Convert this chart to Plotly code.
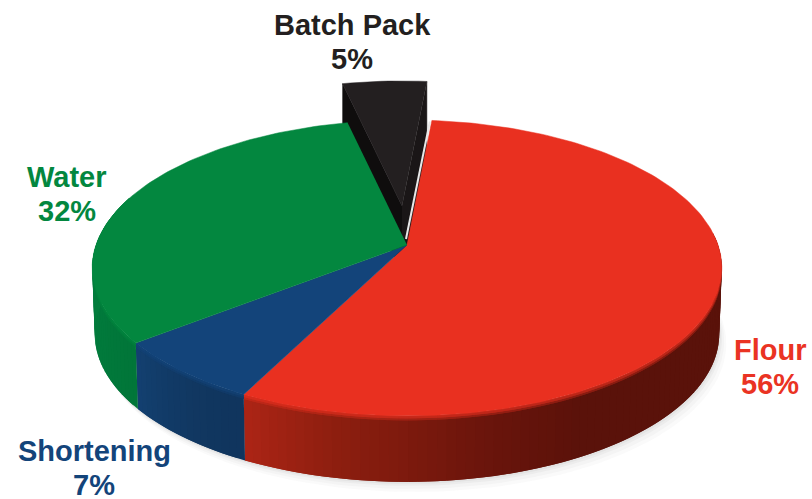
import numpy as np
import plotly.graph_objects as go

categories = ["Flour", "Shortening", "Water", "Batch Pack"]
shares = [56, 7, 32, 5]
face_colors = ["#e93020", "#13447a", "#03873f", "#231f20"]
text_colors = ["#ea3323", "#13447a", "#03873f", "#231f20"]
label_x = [770, 94, 67, 352]
label_y = [350, 451, 177, 25]

W, H = 812, 499
CX, CY, A, B, K = 407.0, 245.0, 311.0, 144.4, 0.155
DEPTH = 66.0
ROT = 5.3


def rim(t):
    r = np.radians(t)
    d = 1 + K * np.cos(r)
    return CX + A * np.sin(r) / d, CY - B * np.cos(r) / d


def low(x, y):
    return CX + (x - CX) * 0.992, y + DEPTH


def side_rgb(i, t):
    if i == 0:
        ts = [90, 150, 167, 192, 207]
        rs = [0x5a, 0x5a, 0x6a, 0x8f, 0xad]
        gs = [0x12, 0x12, 0x15, 0x1f, 0x25]
        bs = [0x0a, 0x0a, 0x0c, 0x10, 0x16]
    elif i == 1:
        ts = [207, 215, 225, 233]
        rs = [0x10, 0x11, 0x12, 0x14]
        gs = [0x35, 0x37, 0x3c, 0x41]
        bs = [0x5e, 0x60, 0x69, 0x72]
    else:
        ts = [232, 250, 280]
        rs = [0x01, 0x02, 0x04]
        gs = [0x76, 0x7a, 0x80]
        bs = [0x39, 0x3c, 0x3f]
    return np.array([np.interp(t, ts, rs), np.interp(t, ts, gs), np.interp(t, ts, bs)])


def hex_rgb(c):
    return np.array([int(c[i:i + 2], 16) for i in (1, 3, 5)], dtype=float)


def css(v):
    return "rgb(%d,%d,%d)" % tuple(v)


def poly(xs, ys, color, lw=0.0):
    return go.Scatter(x=list(xs), y=list(ys), mode="lines", fill="toself", fillcolor=color,
                      line=dict(width=lw, color=color), hoverinfo="skip", showlegend=False)


fig = go.Figure()

edges = ROT + np.cumsum([0] + shares) * 3.6

# soft shadow
ts = np.linspace(0, 360, 181)
px, py = rim(ts)
bx, by = low(px, py)
for off, alpha in ((10, 0.03), (7, 0.04), (4, 0.05), (2, 0.06)):
    fig.add_trace(poly(bx + off * 0.7, by + off, "rgba(90,90,90,%.2f)" % alpha))

# exploded slice (drawn first, behind the rest)
sx, sy = -5.0, -39.0
tt = np.linspace(edges[3], edges[4], 12)
ax, ay = rim(tt)
ax = ax + sx
ay = ay + sy
apx, apy = CX + sx, CY + sy
fig.add_trace(poly([apx, ax[0], ax[0], apx], [apy, ay[0], ay[0] + DEPTH, apy + DEPTH], "#0f0d0d", 0.5))
fig.add_trace(poly([apx, ax[-1], ax[-1], apx], [apy, ay[-1], ay[-1] + DEPTH, apy + DEPTH], "#1a1617", 0.5))
fig.add_trace(poly(np.r_[apx, ax], np.r_[apy, ay], face_colors[3], 0.5))

# outer walls, painted with overlap so that no seams show
STEP = 1.5
for i in range(3):
    t_a, t_b = max(edges[i], 85), min(edges[i + 1], 290)
    n = int(round((t_b - t_a) / STEP))
    steps = np.linspace(t_a, t_b, n + 1)
    order = range(n)
    for j in order:
        a, b = steps[j], steps[min(j + 2, n)]
        x1, y1 = rim(a)
        x2, y2 = rim(b)
        xl1, yl1 = low(x1, y1)
        xl2, yl2 = low(x2, y2)
        wall = side_rgb(i, (steps[j] + steps[j + 1]) / 2)
        fig.add_trace(poly([x1, x2, xl2, xl1], [y1, y2, yl2, yl1], css(wall)))
    # soft bevel between face and wall
    for frac, top, bot in ((0.66, 2.0, 4.5), (0.33, 0.0, 2.5)):
        for j in range(n):
            a, b = steps[j], steps[min(j + 2, n)]
            x1, y1 = rim(a)
            x2, y2 = rim(b)
            wall = side_rgb(i, (steps[j] + steps[j + 1]) / 2)
            col = hex_rgb(face_colors[i]) * (1 - frac) + wall * frac
            fig.add_trace(poly([x1, x2, x2, x1], [y1 + top, y2 + top, y2 + bot, y1 + bot], css(col)))

# top faces
for i in range(3):
    tt = np.linspace(edges[i], edges[i + 1], max(8, int(shares[i] * 3)))
    ex, ey = rim(tt)
    fig.add_trace(poly(np.r_[CX, ex], np.r_[CY, ey], face_colors[i], 0.5))

# thin pale gap beside the exploded slice
gx, gy = rim(edges[0])
fig.add_trace(go.Scatter(x=[CX - 1, gx - 2], y=[CY - 6, gy + 1], mode="lines",
                         line=dict(color="#e8e8e8", width=2), hoverinfo="skip", showlegend=False))

annotations = []
for name, share, col, lx, ly in zip(categories, shares, text_colors, label_x, label_y):
    for text, yy in ((name, ly), (f"{share}%", ly + 34)):
        annotations.append(dict(x=lx, y=yy, xref="x", yref="y", text=f"<b>{text}</b>", showarrow=False,
                                xanchor="center", yanchor="middle",
                                font=dict(family="Liberation Sans", size=29, color=col)))

fig.update_layout(
    width=W, height=H, autosize=False,
    margin=dict(l=0, r=0, t=0, b=0),
    paper_bgcolor="white", plot_bgcolor="white",
    showlegend=False, annotations=annotations,
    xaxis=dict(range=[0, W], visible=False, fixedrange=True),
    yaxis=dict(range=[H, 0], visible=False, fixedrange=True),
)
fig.write_html("out.html", config=dict(displayModeBar=False),
               post_script="document.body.style.margin='0';document.body.style.overflow='hidden';")
